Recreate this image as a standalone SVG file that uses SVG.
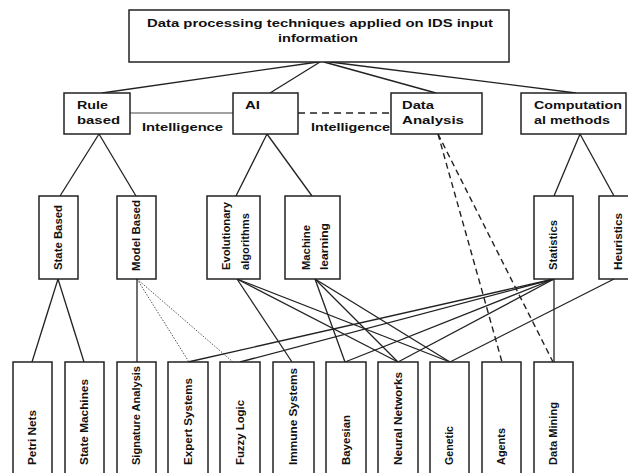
<svg xmlns="http://www.w3.org/2000/svg" width="628" height="473" viewBox="0 0 628 473">
<style>
.box{fill:#fff;stroke:#222;stroke-width:1.5}
.t{font-family:"Liberation Sans",Arial,sans-serif;font-weight:bold;font-size:10.5px;fill:#111}
.c{stroke:#222;stroke-width:1.3;fill:none}
.thin{stroke:#444;stroke-width:1;fill:none}
.dash{stroke:#222;stroke-width:1.4;fill:none;stroke-dasharray:7 5}
.dash2{stroke:#222;stroke-width:1.4;fill:none;stroke-dasharray:6 4}
.dot{stroke:#555;stroke-width:1;fill:none;stroke-dasharray:1.5 1.5}
</style>
<rect width="628" height="473" fill="#fff"/>
<g id="connectors">
<line class="c" x1="318" y1="62" x2="102" y2="93"/>
<line class="c" x1="320" y1="62" x2="270" y2="93"/>
<line class="c" x1="324" y1="62" x2="436" y2="93"/>
<line class="c" x1="330" y1="62" x2="576" y2="93"/>
<line class="thin" x1="130" y1="113" x2="233" y2="113"/>
<line class="dash" x1="298" y1="113" x2="391" y2="113"/>
<line class="c" x1="99" y1="134" x2="60" y2="196"/>
<line class="c" x1="99" y1="134" x2="136" y2="196"/>
<line class="c" x1="267" y1="134" x2="236" y2="196"/>
<line class="c" x1="267" y1="134" x2="312" y2="196"/>
<line class="c" x1="580" y1="134" x2="554" y2="196"/>
<line class="c" x1="580" y1="134" x2="614" y2="196"/>
<line class="c" x1="58" y1="279" x2="32" y2="362"/>
<line class="c" x1="58" y1="279" x2="84" y2="362"/>
<line class="c" x1="137" y1="279" x2="137" y2="362"/>
<line class="dot" x1="137" y1="279" x2="189" y2="362"/>
<line class="dot" x1="137" y1="279" x2="233" y2="362"/>
<line class="c" x1="237" y1="279" x2="292" y2="362"/>
<line class="c" x1="237" y1="279" x2="398" y2="362"/>
<line class="c" x1="237" y1="279" x2="450" y2="362"/>
<line class="c" x1="315" y1="279" x2="345" y2="362"/>
<line class="c" x1="315" y1="279" x2="398" y2="362"/>
<line class="c" x1="315" y1="279" x2="450" y2="362"/>
<line class="c" x1="554" y1="279" x2="188" y2="362"/>
<line class="c" x1="554" y1="279" x2="240" y2="362"/>
<line class="c" x1="554" y1="279" x2="345" y2="362"/>
<line class="c" x1="554" y1="279" x2="398" y2="362"/>
<line class="c" x1="554" y1="279" x2="554" y2="362"/>
<line class="c" x1="614" y1="279" x2="450" y2="362"/>
<line class="dash2" x1="438" y1="134" x2="502" y2="362"/>
<line class="dash2" x1="438" y1="134" x2="553" y2="362"/>
</g>
<g id="label-intelligence-1"><text class="t" x="142" y="131" textLength="81" lengthAdjust="spacingAndGlyphs">Intelligence</text></g>
<g id="label-intelligence-2"><text class="t" x="311" y="131" textLength="79" lengthAdjust="spacingAndGlyphs">Intelligence</text></g>
<g id="root">
<rect class="box" x="129" y="10" width="380" height="52"/>
<text class="t" x="147" y="27" textLength="346" lengthAdjust="spacingAndGlyphs">Data processing techniques applied on IDS input</text>
<text class="t" x="278" y="42" textLength="80" lengthAdjust="spacingAndGlyphs">information</text>
</g>
<g id="rule-based">
<rect class="box" x="64" y="93" width="66" height="41"/>
<text class="t" x="77" y="109" textLength="31" lengthAdjust="spacingAndGlyphs">Rule</text>
<text class="t" x="77" y="124" textLength="43" lengthAdjust="spacingAndGlyphs">based</text>
</g>
<g id="ai">
<rect class="box" x="233" y="93" width="65" height="41"/>
<text class="t" x="245" y="109" textLength="15" lengthAdjust="spacingAndGlyphs">AI</text>
</g>
<g id="data-analysis">
<rect class="box" x="391" y="93" width="91" height="41"/>
<text class="t" x="402" y="109" textLength="32" lengthAdjust="spacingAndGlyphs">Data</text>
<text class="t" x="402" y="124" textLength="62" lengthAdjust="spacingAndGlyphs">Analysis</text>
</g>
<g id="computational-methods">
<rect class="box" x="521" y="93" width="105" height="41"/>
<text class="t" x="534" y="109" textLength="88" lengthAdjust="spacingAndGlyphs">Computation</text>
<text class="t" x="534" y="124" textLength="76" lengthAdjust="spacingAndGlyphs">al methods</text>
</g>
<g id="state-based">
<rect class="box" x="39" y="196" width="39" height="83"/>
<text class="t" transform="translate(62,270) rotate(-90)" textLength="65" lengthAdjust="spacingAndGlyphs">State Based</text>
</g>
<g id="model-based">
<rect class="box" x="117" y="196" width="39" height="83"/>
<text class="t" transform="translate(140,271) rotate(-90)" textLength="71" lengthAdjust="spacingAndGlyphs">Model Based</text>
</g>
<g id="evolutionary-algorithms">
<rect class="box" x="207" y="196" width="53" height="83"/>
<text class="t" transform="translate(230,270) rotate(-90)" textLength="68" lengthAdjust="spacingAndGlyphs">Evolutionary</text>
<text class="t" transform="translate(249,270) rotate(-90)" textLength="57" lengthAdjust="spacingAndGlyphs">algorithms</text>
</g>
<g id="machine-learning">
<rect class="box" x="285" y="196" width="55" height="83"/>
<text class="t" transform="translate(310,270) rotate(-90)" textLength="45" lengthAdjust="spacingAndGlyphs">Machine</text>
<text class="t" transform="translate(328,270) rotate(-90)" textLength="47" lengthAdjust="spacingAndGlyphs">learning</text>
</g>
<g id="statistics">
<rect class="box" x="534" y="196" width="39" height="83"/>
<text class="t" transform="translate(557,270) rotate(-90)" textLength="50" lengthAdjust="spacingAndGlyphs">Statistics</text>
</g>
<g id="heuristics">
<rect class="box" x="599" y="196" width="39" height="83"/>
<text class="t" transform="translate(622,270) rotate(-90)" textLength="57" lengthAdjust="spacingAndGlyphs">Heuristics</text>
</g>
<g id="petri-nets">
<rect class="box" x="13" y="362" width="39" height="120"/>
<text class="t" transform="translate(36,465) rotate(-90)" textLength="55" lengthAdjust="spacingAndGlyphs">Petri Nets</text>
</g>
<g id="state-machines">
<rect class="box" x="65" y="362" width="39" height="120"/>
<text class="t" transform="translate(88,465) rotate(-90)" textLength="86" lengthAdjust="spacingAndGlyphs">State Machines</text>
</g>
<g id="signature-analysis">
<rect class="box" x="117" y="362" width="39" height="120"/>
<text class="t" transform="translate(140,465) rotate(-90)" textLength="99" lengthAdjust="spacingAndGlyphs">Signature Analysis</text>
</g>
<g id="expert-systems">
<rect class="box" x="168" y="362" width="40" height="120"/>
<text class="t" transform="translate(192,465) rotate(-90)" textLength="87" lengthAdjust="spacingAndGlyphs">Expert Systems</text>
</g>
<g id="fuzzy-logic">
<rect class="box" x="220" y="362" width="40" height="120"/>
<text class="t" transform="translate(244,465) rotate(-90)" textLength="65" lengthAdjust="spacingAndGlyphs">Fuzzy Logic</text>
</g>
<g id="immune-systems">
<rect class="box" x="273" y="362" width="41" height="120"/>
<text class="t" transform="translate(297,465) rotate(-90)" textLength="97" lengthAdjust="spacingAndGlyphs">Immune Systems</text>
</g>
<g id="bayesian">
<rect class="box" x="326" y="362" width="40" height="120"/>
<text class="t" transform="translate(350,465) rotate(-90)" textLength="50" lengthAdjust="spacingAndGlyphs">Bayesian</text>
</g>
<g id="neural-networks">
<rect class="box" x="378" y="362" width="40" height="120"/>
<text class="t" transform="translate(402,465) rotate(-90)" textLength="93" lengthAdjust="spacingAndGlyphs">Neural Networks</text>
</g>
<g id="genetic">
<rect class="box" x="430" y="362" width="39" height="120"/>
<text class="t" transform="translate(453,465) rotate(-90)" textLength="39" lengthAdjust="spacingAndGlyphs">Genetic</text>
</g>
<g id="agents">
<rect class="box" x="482" y="362" width="39" height="120"/>
<text class="t" transform="translate(505,465) rotate(-90)" textLength="37" lengthAdjust="spacingAndGlyphs">Agents</text>
</g>
<g id="data-mining">
<rect class="box" x="534" y="362" width="39" height="120"/>
<text class="t" transform="translate(557,465) rotate(-90)" textLength="63" lengthAdjust="spacingAndGlyphs">Data Mining</text>
</g>
</svg>
